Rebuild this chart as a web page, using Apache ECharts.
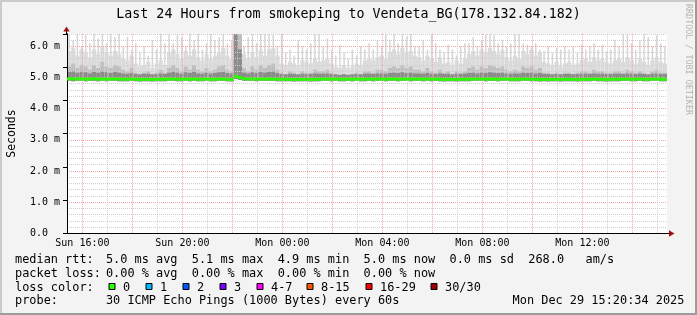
<!DOCTYPE html>
<html><head><meta charset="utf-8">
<script src="https://cdn.jsdelivr.net/npm/echarts@6/dist/echarts.min.js"></script>
<style>html,body{margin:0;padding:0;background:#f3f3f3}#c{width:697px;height:315px}</style>
</head><body><div id="c"></div><script>
// ---- data (minutes after Sun 15:23; values in ms) ----
const tickLabels = ['Sun 16:00','Sun 20:00','Mon 00:00','Mon 04:00','Mon 08:00','Mon 12:00'];
const tickMinutes = [37, 277, 517, 757, 997, 1237];
const hourMinutes = [37,97,157,217,277,337,397,457,517,577,637,697,757,817,877,937,997,1057,1117,1177,1237,1297,1357,1417];
const binMin = 10;

const smokeMax = [
 6.4,6.2,6.4,6.0,6.35,6.1,6.4,6.25,6.4,6.1,6.4,6.3,
 6.4,6.0,6.3,5.9,6.1,5.8,6.0,5.7,6.2,5.9,6.4,6.1,
 6.4,6.1,6.4,6.3,6.0,6.4,6.2,6.4,5.9,6.1,6.4,6.2,
 6.3,6.4,6.1,6.2,6.4,6.4,6.0,6.3,6.4,6.1,6.4,6.4,
 6.4,6.4,6.0,6.4,5.8,5.9,5.7,6.2,6.0,5.9,6.1,6.4,
 6.4,6.0,6.25,5.9,5.7,6.05,5.8,5.6,5.9,5.7,6.0,5.9,
 6.1,5.9,6.2,6.0,6.4,6.2,6.4,6.1,6.4,6.3,6.4,6.0,
 6.0,6.2,5.9,6.4,6.1,5.9,5.8,6.05,5.9,5.7,6.0,6.1,
 6.1,6.3,6.0,6.2,6.4,6.4,6.35,6.1,6.2,6.0,6.1,6.4,
 6.4,6.1,6.05,6.0,6.1,5.9,5.85,6.0,5.8,5.95,5.9,6.0,
 5.9,6.0,5.8,6.05,5.9,6.0,6.1,5.9,6.05,5.85,5.9,6.2,
 6.0,6.4,6.4,6.1,5.9,6.2,6.4,6.3,6.0,6.35,6.1,6.0];
const smokeBody = [
 5.85,5.95,5.7,5.9,5.8,5.65,5.9,5.75,6.0,5.8,5.7,5.85,
 5.75,5.6,5.55,5.7,5.45,5.35,5.4,5.5,5.3,5.45,5.55,5.4,
 5.8,5.9,5.75,5.6,5.85,5.7,5.9,5.65,5.55,5.75,5.6,5.7,
 5.8,5.95,5.7,5.6,6.4,6.4,5.75,5.6,5.8,5.65,5.9,5.7,
 5.9,5.95,5.7,5.45,5.4,5.5,5.45,5.4,5.55,5.5,5.45,5.6,
 5.5,5.55,5.6,5.45,5.35,5.3,5.4,5.3,5.35,5.45,5.4,5.55,
 5.6,5.55,5.65,5.7,5.6,5.8,5.9,5.75,5.95,5.8,5.85,5.7,
 5.65,5.55,5.7,5.6,5.5,5.65,5.45,5.5,5.4,5.55,5.45,5.6,
 5.75,5.85,5.7,5.9,5.8,5.95,5.85,5.75,5.9,5.65,5.55,5.7,
 5.6,5.85,5.75,5.9,5.7,5.8,5.5,5.45,5.4,5.5,5.35,5.45,
 5.5,5.4,5.45,5.55,5.6,5.5,5.65,5.55,5.6,5.5,5.45,5.55,
 5.6,5.5,5.65,5.55,5.45,5.6,5.5,5.4,5.55,5.65,5.5,5.45];
const smokeMid = [
 5.35,5.45,5.3,5.4,5.35,5.25,5.4,5.3,5.5,5.35,5.3,5.4,
 5.35,5.25,5.2,5.3,5.15,5.1,5.15,5.2,5.1,5.15,5.25,5.15,
 5.3,5.4,5.3,5.2,5.35,5.25,5.4,5.25,5.2,5.3,5.2,5.25,
 5.35,5.4,5.25,5.2,6.4,6.4,5.3,5.2,5.35,5.25,5.4,5.3,
 5.4,5.45,5.25,5.15,5.1,5.2,5.15,5.1,5.2,5.15,5.15,5.25,
 5.2,5.2,5.25,5.15,5.1,5.05,5.1,5.05,5.1,5.15,5.1,5.2,
 5.2,5.15,5.25,5.25,5.2,5.3,5.35,5.3,5.4,5.3,5.35,5.25,
 5.25,5.2,5.3,5.2,5.15,5.25,5.15,5.2,5.1,5.2,5.15,5.2,
 5.3,5.35,5.25,5.35,5.3,5.4,5.35,5.3,5.35,5.25,5.2,5.25,
 5.2,5.35,5.3,5.35,5.25,5.3,5.15,5.15,5.1,5.15,5.1,5.15,
 5.15,5.1,5.15,5.2,5.2,5.15,5.25,5.2,5.2,5.15,5.15,5.2,
 5.2,5.15,5.25,5.2,5.15,5.2,5.15,5.1,5.2,5.25,5.15,5.15];
const smokeDark = [
 5.18,5.2,5.15,5.18,5.17,5.13,5.18,5.15,5.2,5.17,5.14,5.18,
 5.15,5.13,5.12,5.14,5.11,5.1,5.12,5.12,5.1,5.11,5.13,5.11,
 5.15,5.18,5.15,5.12,5.17,5.14,5.18,5.13,5.12,5.15,5.12,5.14,
 5.17,5.18,5.14,5.13,6.4,5.9,5.15,5.13,5.17,5.14,5.18,5.15,
 5.18,5.19,5.14,5.11,5.1,5.12,5.11,5.1,5.12,5.11,5.11,5.13,
 5.12,5.12,5.13,5.11,5.1,5.09,5.1,5.09,5.1,5.11,5.1,5.12,
 5.12,5.11,5.13,5.13,5.12,5.14,5.15,5.14,5.17,5.14,5.15,5.13,
 5.13,5.12,5.14,5.12,5.11,5.13,5.11,5.12,5.1,5.12,5.11,5.12,
 5.14,5.15,5.13,5.15,5.14,5.17,5.15,5.14,5.15,5.13,5.12,5.13,
 5.12,5.15,5.14,5.15,5.13,5.14,5.11,5.11,5.1,5.11,5.1,5.11,
 5.11,5.1,5.11,5.12,5.12,5.11,5.13,5.12,5.12,5.11,5.11,5.12,
 5.12,5.11,5.13,5.12,5.11,5.12,5.11,5.1,5.12,5.13,5.11,5.11];
const smokeLow = [
 4.89,4.88,4.89,4.89,4.88,4.89,4.89,4.88,4.89,4.88,4.89,4.89,
 4.88,4.88,4.88,4.89,4.88,4.87,4.88,4.88,4.87,4.88,4.88,4.88,
 4.89,4.89,4.88,4.88,4.89,4.88,4.89,4.88,4.88,4.89,4.88,4.88,
 4.89,4.89,4.88,4.87,4.95,4.92,4.89,4.89,4.89,4.88,4.89,4.89,
 4.89,4.89,4.88,4.88,4.88,4.88,4.87,4.88,4.88,4.88,4.87,4.88,
 4.88,4.89,4.89,4.88,4.89,4.88,4.88,4.89,4.88,4.89,4.88,4.88,
 4.89,4.88,4.89,4.89,4.88,4.89,4.89,4.88,4.89,4.89,4.88,4.89,
 4.89,4.88,4.89,4.88,4.89,4.88,4.87,4.88,4.88,4.87,4.88,4.88,
 4.88,4.89,4.89,4.89,4.88,4.89,4.89,4.88,4.89,4.89,4.88,4.88,
 4.88,4.89,4.89,4.88,4.88,4.87,4.88,4.87,4.88,4.88,4.87,4.88,
 4.88,4.88,4.87,4.88,4.88,4.88,4.89,4.88,4.88,4.87,4.88,4.88,
 4.88,4.89,4.89,4.88,4.88,4.89,4.88,4.88,4.89,4.89,4.88,4.88];
const medianRtt = [
 4.95,4.96,4.95,4.95,4.94,4.95,4.96,4.95,4.95,4.94,4.95,4.95,
 4.95,4.94,4.94,4.95,4.94,4.93,4.94,4.94,4.93,4.94,4.94,4.94,
 4.95,4.95,4.94,4.94,4.95,4.94,4.95,4.94,4.94,4.95,4.94,4.94,
 4.95,4.95,4.94,4.93,5.04,5.0,4.96,4.95,4.95,4.94,4.95,4.95,
 4.95,4.95,4.94,4.94,4.94,4.94,4.93,4.94,4.94,4.94,4.93,4.94,
 4.94,4.95,4.95,4.94,4.95,4.94,4.94,4.95,4.94,4.95,4.94,4.94,
 4.95,4.94,4.95,4.95,4.94,4.95,4.95,4.94,4.95,4.95,4.94,4.95,
 4.95,4.94,4.95,4.94,4.95,4.94,4.93,4.94,4.94,4.93,4.94,4.94,
 4.94,4.95,4.95,4.95,4.94,4.95,4.95,4.94,4.95,4.95,4.94,4.94,
 4.94,4.95,4.95,4.94,4.94,4.93,4.94,4.93,4.94,4.94,4.93,4.94,
 4.94,4.94,4.93,4.94,4.94,4.94,4.95,4.94,4.94,4.93,4.94,4.94,
 4.94,4.95,4.95,4.94,4.94,4.95,4.94,4.94,4.95,4.95,4.94,4.94];

const rttStats = ['5.0', '5.1', '4.9', '5.0', '0.0', '268.0'];
const lossStats = ['0.00', '0.00', '0.00', '0.00'];
const lossLabels = ['0', '1', '2', '3', '4-7', '8-15', '16-29', '30/30'];
const lossColors = ['#26ff00', '#00b8ff', '#0059ff', '#7e00ff', '#ff00ff', '#ff5500', '#ff0000', '#a10000'];
const titleText = 'Last 24 Hours from smokeping to Vendeta_BG(178.132.84.182)';
const probeText = '30 ICMP Echo Pings (1000 Bytes) every 60s';
const dateText = 'Mon Dec 29 15:20:34 2025';

// ---- rendering ----
const MONO = '"DejaVu Sans Mono", monospace';
const RED = '#f5a3a3';
const GREY = '#cfcfcf';

const smokeData = smokeMax.map((m, i) => [i * binMin, smokeLow[i], smokeDark[i], smokeMid[i], smokeBody[i], m]);
const medianData = medianRtt.map((v, i) => [i * binMin, v]);

function renderSmoke(params, api) {
  const x0 = api.value(0);
  const left = api.coord([x0, 0])[0];
  const right = api.coord([x0 + binMin, 0])[0];
  const w = right - left;
  const yLow = api.coord([x0, api.value(1)])[1];
  const yDark = api.coord([x0, api.value(2)])[1];
  const yMid = api.coord([x0, api.value(3)])[1];
  const yBody = api.coord([x0, api.value(4)])[1];
  const yMax = api.coord([x0, api.value(5)])[1];
  const cx = left + w / 2;
  return {type: 'group', children: [
    {type: 'rect', shape: {x: cx - 0.75, y: yMax, width: 1.5, height: yLow - yMax}, style: {fill: '#d6d6d6'}},
    {type: 'rect', shape: {x: left, y: yBody, width: w, height: yLow - yBody}, style: {fill: '#dbdbdb'}},
    {type: 'rect', shape: {x: left, y: yMid, width: w, height: yLow - yMid}, style: {fill: '#bfbfbf'}},
    {type: 'rect', shape: {x: left, y: yDark, width: w, height: yLow - yDark}, style: {fill: '#8c8c8c'}}
  ]};
}
function renderMedian(params, api) {
  const x0 = api.value(0);
  const p = api.coord([x0, api.value(1)]);
  const right = api.coord([x0 + binMin, 0])[0];
  return {type: 'rect', shape: {x: p[0], y: p[1] - 1.5, width: right - p[0], height: 3}, style: {fill: lossColors[0]}};
}

const txt = (text, x, y, extra) => Object.assign({type: 'text', x: x, y: y, silent: true,
  style: Object.assign({text: text, font: '11.9px ' + MONO, fill: '#000', align: 'left', verticalAlign: 'middle'}, extra || {})});

const graphics = [
  {type: 'rect', shape: {x: 0, y: 0, width: 697, height: 2}, style: {fill: '#cbcbcb'}},
  {type: 'rect', shape: {x: 0, y: 0, width: 2, height: 315}, style: {fill: '#cbcbcb'}},
  {type: 'rect', shape: {x: 695, y: 0, width: 2, height: 315}, style: {fill: '#9b9b9b'}},
  {type: 'rect', shape: {x: 0, y: 313, width: 697, height: 2}, style: {fill: '#9b9b9b'}},
  txt(titleText, 348.5, 14.8, {font: '13.3px ' + MONO, align: 'center'}),
  {type: 'text', x: 688.5, y: 59.5, rotation: -Math.PI / 2, silent: true,
    style: {text: 'RRDTOOL / TOBI OETIKER', font: '8.4px ' + MONO, fill: '#b4b4b4', align: 'center', verticalAlign: 'middle'}},
  // axis extensions & arrows
  {type: 'line', shape: {x1: 66.5, y1: 34, x2: 66.5, y2: 30}, style: {stroke: '#000', lineWidth: 1}},
  {type: 'polygon', shape: {points: [[66.5, 26.5], [63.3, 31.5], [69.7, 31.5]]}, style: {fill: '#a01010'}},
  {type: 'line', shape: {x1: 666, y1: 233.5, x2: 670, y2: 233.5}, style: {stroke: '#000', lineWidth: 1}},
  {type: 'polygon', shape: {points: [[674.5, 233.5], [669, 230.3], [669, 236.7]]}, style: {fill: '#a01010'}},
  // legend
  txt('median rtt:', 15, 260.2),
  txt(`${rttStats[0]} ms avg  ${rttStats[1]} ms max  ${rttStats[2]} ms min  ${rttStats[3]} ms now  ${rttStats[4]} ms sd  ${rttStats[5]}   am/s`, 105.9, 260.2),
  txt('packet loss:', 15, 273.9),
  txt(`${lossStats[0]} % avg  ${lossStats[1]} % max  ${lossStats[2]} % min  ${lossStats[3]} % now`, 105.9, 273.9),
  txt('loss color:', 15, 287.6),
  txt('probe:', 15, 301.4),
  txt(probeText, 105.9, 301.4),
  txt(dateText, 512.6, 301.4)
];
const boxX = [108.5, 145.5, 182.5, 219.5, 256.5, 306.5, 365.5, 430.5];
lossLabels.forEach((lab, i) => {
  graphics.push({type: 'rect', shape: {x: boxX[i] + 0.5, y: 283.5, width: 6, height: 6}, style: {fill: lossColors[i], stroke: '#000', lineWidth: 1}});
  graphics.push(txt(lab, boxX[i] + 14.5, 287.6));
});

const chart = echarts.init(document.getElementById('c'), null, {renderer: 'canvas'});
chart.setOption({
  backgroundColor: '#f3f3f3',
  animation: false,
  grid: {left: 67, right: 30, top: 33.8, bottom: 81.7, containLabel: false, outerBoundsMode: 'none',
    show: true, backgroundColor: '#ffffff', borderWidth: 0},
  xAxis: {
    type: 'value', min: 0, max: 1440, z: 3,
    axisLine: {show: true, onZero: false, lineStyle: {color: '#000', width: 1}},
    axisTick: {show: false, customValues: hourMinutes},
    axisLabel: {customValues: tickMinutes, formatter: v => tickLabels[tickMinutes.indexOf(v)] || '',
      fontFamily: MONO, fontSize: 10, color: '#000', margin: 5},
    splitLine: {show: true, lineStyle: {color: [RED, GREY], type: [1, 1], width: 1}},
    minorSplitLine: {show: false}
  },
  yAxis: [{
    type: 'value', min: 0, max: 6.4, interval: 0.2, position: 'left', z: 3,
    axisLine: {show: true, lineStyle: {color: '#000', width: 1}},
    axisTick: {show: false},
    axisLabel: {fontFamily: MONO, fontSize: 10, color: '#000', margin: 7,
      formatter: v => {
        if (Math.abs(v - Math.round(v)) > 1e-6) return '';
        const r = Math.round(v);
        return r === 0 ? '0.0  ' : r.toFixed(1) + ' m';
      }},
    splitLine: {show: true, lineStyle: {color: [RED, GREY, GREY, GREY, GREY], type: [1, 1], width: 1}},
    name: 'Seconds', nameLocation: 'middle', nameGap: 49, nameRotate: 90,
    nameTextStyle: {fontFamily: MONO, fontSize: 11.5, color: '#000'}
  }, {
    type: 'value', min: 0, max: 6, interval: 1, position: 'left', z: 3,
    axisLine: {show: false}, axisLabel: {show: false}, splitLine: {show: false},
    axisTick: {show: true, length: 4, inside: false, lineStyle: {color: '#000'}}
  }],
  series: [
    {type: 'custom', name: 'smoke', data: smokeData, renderItem: renderSmoke, z: 2, silent: true,
      encode: {x: 0, y: [1, 5]}, clip: true},
    {type: 'custom', name: 'median', data: medianData, renderItem: renderMedian, z: 5, silent: true,
      encode: {x: 0, y: 1}, clip: true}
  ],
  graphic: graphics
});
</script></body></html>
